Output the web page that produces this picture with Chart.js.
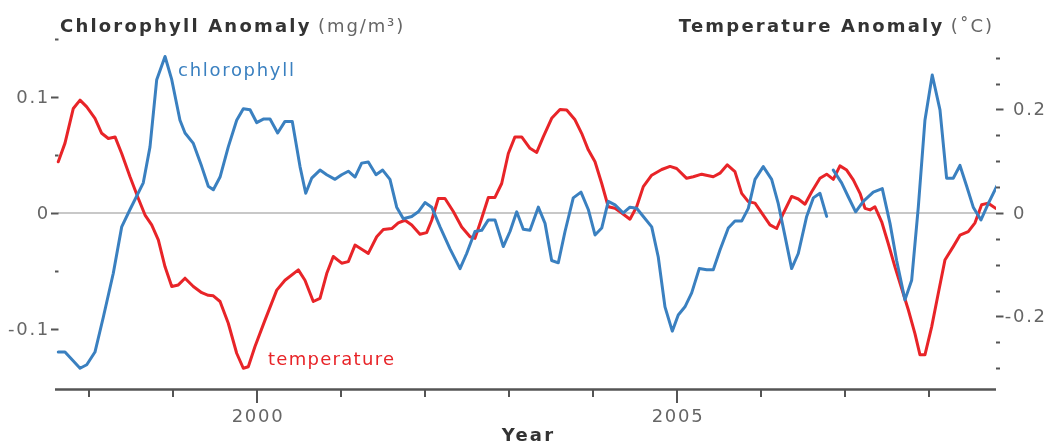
<!DOCTYPE html>
<html>
<head>
<meta charset="utf-8">
<script src="https://cdn.jsdelivr.net/npm/chart.js@4"></script>
<style>
  html, body { margin: 0; padding: 0; background: #fff; }
  #wrap { width: 1048px; height: 446px; }
</style>
</head>
<body>
<div id="wrap"><canvas id="c" width="1048" height="446"></canvas></div>
<script>
// ---------------- DATA ----------------
const chlYears = [1997.634, 1997.714, 1997.893, 1997.973, 1998.071, 1998.170, 1998.289, 1998.389, 1998.488, 1998.646,
  1998.726, 1998.806, 1998.905, 1998.985, 1999.083, 1999.143, 1999.242, 1999.342, 1999.420, 1999.480,
  1999.560, 1999.658, 1999.758, 1999.837, 1999.917, 1999.996, 2000.075, 2000.155, 2000.246, 2000.333,
  2000.420, 2000.512, 2000.580, 2000.651, 2000.750, 2000.830, 2000.929, 2001.008, 2001.087, 2001.167,
  2001.246, 2001.325, 2001.417, 2001.496, 2001.583, 2001.663, 2001.742, 2001.842, 2001.920, 2002.000,
  2002.080, 2002.179, 2002.298, 2002.417, 2002.496, 2002.595, 2002.675, 2002.754, 2002.833, 2002.932,
  2003.012, 2003.092, 2003.170, 2003.250, 2003.349, 2003.429, 2003.508, 2003.587, 2003.667, 2003.765,
  2003.857, 2003.944, 2004.024, 2004.104, 2004.182, 2004.262, 2004.361, 2004.440, 2004.520, 2004.599,
  2004.699, 2004.777, 2004.857, 2004.944, 2005.015, 2005.095, 2005.175, 2005.265, 2005.354, 2005.432,
  2005.512, 2005.611, 2005.690, 2005.770, 2005.849, 2005.929, 2006.027, 2006.127, 2006.206, 2006.286,
  2006.365, 2006.444, 2006.544, 2006.623, 2006.702, 2006.782, 2006.820,
  2006.861, 2006.960, 2007.039, 2007.127, 2007.218, 2007.337, 2007.444, 2007.536, 2007.615, 2007.714,
  2007.794, 2007.873, 2007.952, 2008.039, 2008.131, 2008.210, 2008.289, 2008.369, 2008.449, 2008.527,
  2008.619, 2008.706, 2008.806];
const chlValues = [-0.120, -0.120, -0.134, -0.131, -0.120, -0.090, -0.052, -0.012, 0.003, 0.026,
  0.057, 0.115, 0.135, 0.115, 0.080, 0.069, 0.060, 0.040, 0.023, 0.020,
  0.031, 0.057, 0.080, 0.090, 0.089, 0.078, 0.081, 0.081, 0.069, 0.079,
  0.079, 0.040, 0.017, 0.030, 0.037, 0.033, 0.029, 0.033, 0.036, 0.031,
  0.043, 0.044, 0.033, 0.037, 0.029, 0.005, -0.005, -0.003, 0.001, 0.009,
  0.005, -0.012, -0.031, -0.048, -0.035, -0.016, -0.015, -0.006, -0.006, -0.029,
  -0.016, 0.001, -0.014, -0.015, 0.005, -0.009, -0.041, -0.043, -0.016, 0.013,
  0.018, 0.003, -0.019, -0.013, 0.010, 0.007, 0.000, 0.005, 0.004, -0.003,
  -0.012, -0.038, -0.081, -0.102, -0.088, -0.081, -0.069, -0.048, -0.049, -0.049,
  -0.032, -0.013, -0.007, -0.007, 0.004, 0.029, 0.040, 0.029, 0.008, -0.020,
  -0.048, -0.035, -0.003, 0.013, 0.017, -0.003, null,
  0.037, 0.026, 0.014, 0.001, 0.010, 0.018, 0.021, -0.009, -0.041, -0.075,
  -0.058, 0.005, 0.080, 0.119, 0.089, 0.030, 0.030, 0.041, 0.023, 0.005,
  -0.006, 0.008, 0.023];

const tempYears = [1997.634, 1997.714, 1997.813, 1997.893, 1997.973, 1998.071, 1998.151, 1998.230, 1998.310, 1998.389,
  1998.488, 1998.587, 1998.667, 1998.746, 1998.825, 1998.905, 1998.985, 1999.063, 1999.143, 1999.242,
  1999.342, 1999.420, 1999.480, 1999.560, 1999.658, 1999.758, 1999.837, 1999.896, 1999.976, 2000.095,
  2000.235, 2000.333, 2000.492, 2000.571, 2000.670, 2000.750, 2000.830, 2000.908, 2001.008, 2001.087,
  2001.167, 2001.265, 2001.325, 2001.425, 2001.504, 2001.604, 2001.682, 2001.762, 2001.842, 2001.940,
  2002.020, 2002.080, 2002.158, 2002.238, 2002.337, 2002.437, 2002.536, 2002.595, 2002.675, 2002.754,
  2002.833, 2002.913, 2002.992, 2003.071, 2003.151, 2003.250, 2003.330, 2003.408, 2003.508, 2003.607,
  2003.687, 2003.786, 2003.865, 2003.944, 2004.024, 2004.104, 2004.182, 2004.262, 2004.342, 2004.440,
  2004.520, 2004.599, 2004.699, 2004.818, 2004.917, 2004.996, 2005.115, 2005.194, 2005.294, 2005.432,
  2005.512, 2005.599, 2005.690, 2005.770, 2005.849, 2005.929, 2006.027, 2006.107, 2006.187, 2006.265,
  2006.365, 2006.444, 2006.524, 2006.604, 2006.702, 2006.782, 2006.861, 2006.940, 2007.020, 2007.099,
  2007.179, 2007.238, 2007.298, 2007.357, 2007.437, 2007.515, 2007.595, 2007.675, 2007.754, 2007.833,
  2007.893, 2007.952, 2008.032, 2008.111, 2008.190, 2008.289, 2008.369, 2008.468, 2008.548, 2008.627,
  2008.706, 2008.794];
const tempValues = [0.099, 0.135, 0.202, 0.218, 0.205, 0.183, 0.154, 0.144, 0.147, 0.115,
  0.070, 0.028, -0.004, -0.023, -0.052, -0.104, -0.142, -0.139, -0.126, -0.142,
  -0.154, -0.159, -0.160, -0.171, -0.213, -0.271, -0.300, -0.297, -0.258, -0.207,
  -0.149, -0.130, -0.110, -0.130, -0.171, -0.165, -0.117, -0.084, -0.097, -0.094,
  -0.062, -0.072, -0.078, -0.046, -0.032, -0.030, -0.019, -0.014, -0.023, -0.041,
  -0.038, -0.014, 0.028, 0.028, 0.003, -0.027, -0.046, -0.049, -0.010, 0.030,
  0.030, 0.057, 0.115, 0.147, 0.147, 0.125, 0.117, 0.147, 0.183, 0.200,
  0.199, 0.180, 0.154, 0.122, 0.099, 0.057, 0.012, 0.009, 0.000, -0.012,
  0.012, 0.051, 0.073, 0.084, 0.090, 0.086, 0.067, 0.070, 0.075, 0.070,
  0.077, 0.093, 0.080, 0.038, 0.022, 0.019, -0.004, -0.023, -0.030, -0.001,
  0.032, 0.027, 0.017, 0.041, 0.067, 0.075, 0.065, 0.091, 0.083, 0.064,
  0.038, 0.009, 0.006, 0.012, -0.017, -0.059, -0.104, -0.146, -0.187, -0.233,
  -0.274, -0.274, -0.220, -0.155, -0.091, -0.065, -0.043, -0.036, -0.019, 0.016,
  0.019, 0.009];

// tick values and labels
const xTickYears   = [1998, 1999, 2000, 2001, 2002, 2003, 2004, 2005, 2006, 2007, 2008];
const xLabelYears  = [2000, 2005];
const leftTicks    = [-0.1, -0.05, 0, 0.05, 0.1, 0.15];
const leftLabels   = [-0.1, 0, 0.1];
const rightTicks   = [-0.3, -0.25, -0.2, -0.15, -0.1, -0.05, 0, 0.05, 0.1, 0.15, 0.2, 0.25, 0.3];
const rightLabels  = [-0.2, 0, 0.2];

// text
const leftTitle  = ['Chlorophyll Anomaly', '(mg/m\u00B3)'];
const rightTitle = ['Temperature Anomaly', '(\u02DAC)'];
const xTitle     = 'Year';
const chlName    = 'chlorophyll';
const tempName   = 'temperature';
// series-label anchors in data coordinates [year, value]
const chlNameAt  = [1999.06, 0.118];
const tempNameAt = [2000.13, -0.294];

// ---------------- STYLE ----------------
const BLUE = 'rgb(58,128,192)';
const RED  = 'rgb(232,36,40)';
const FONT = '"DejaVu Sans", sans-serif';

function toXY(xs, ys) {
  const n = Math.min(xs.length, ys.length);
  const out = [];
  for (let i = 0; i < n; i++) out.push({ x: xs[i], y: ys[i] });
  return out;
}
function fmt(v) { return v === 0 ? '0' : String(v); }

function setFont(ctx, weight, color, ls) {
  ctx.font = weight + ' 18px ' + FONT;
  ctx.fillStyle = color;
  try { ctx.letterSpacing = (ls || 1.7) + 'px'; } catch (e) {}
}

const decor = {
  id: 'decor',
  beforeDatasetsDraw(chart) {
    const { ctx, chartArea: a, scales } = chart;
    const y0 = scales.yL.getPixelForValue(0);
    ctx.save();
    ctx.strokeStyle = '#c8c8c8';
    ctx.lineWidth = 2;
    ctx.beginPath();
    ctx.moveTo(a.left + 3, y0); ctx.lineTo(a.right, y0);
    ctx.stroke();
    ctx.restore();
  },
  afterDraw(chart) {
    const { ctx, chartArea: a, scales } = chart;
    const sx = scales.x, yL = scales.yL, yR = scales.yR;
    ctx.save();
    // x axis line
    ctx.strokeStyle = '#555';
    ctx.lineWidth = 2.5;
    ctx.beginPath();
    ctx.moveTo(a.left, a.bottom + 0.5); ctx.lineTo(a.right, a.bottom + 0.5);
    ctx.stroke();
    // x ticks
    ctx.lineWidth = 2;
    xTickYears.forEach(yr => {
      const px = Math.round(sx.getPixelForValue(yr));
      const len = xLabelYears.includes(yr) ? 13 : 7;
      ctx.beginPath();
      ctx.moveTo(px, a.bottom + 1); ctx.lineTo(px, a.bottom + 1 + len);
      ctx.stroke();
    });
    // left ticks
    leftTicks.forEach(v => {
      const py = Math.round(yL.getPixelForValue(v)) + 0.5;
      const major = leftLabels.includes(v);
      ctx.beginPath();
      ctx.moveTo(a.left + (major ? -4 : 0), py); ctx.lineTo(a.left + 3.5, py);
      ctx.stroke();
    });
    // right ticks
    rightTicks.forEach(v => {
      const py = Math.round(yR.getPixelForValue(v)) + 0.5;
      const major = rightLabels.includes(v);
      ctx.beginPath();
      ctx.moveTo(a.right, py); ctx.lineTo(a.right + (major ? 7.5 : 4), py);
      ctx.stroke();
    });

    // tick labels
    setFont(ctx, 'normal', '#666');
    ctx.textBaseline = 'middle';
    ctx.textAlign = 'right';
    leftLabels.forEach(v => {
      ctx.fillText(fmt(v), a.left - 5, yL.getPixelForValue(v) + 1);
    });
    ctx.textAlign = 'left';
    const minusW = ctx.measureText('-').width;
    rightLabels.forEach(v => {
      const s = fmt(v);
      const x0 = a.right + 17 - (v < 0 ? minusW : 0);
      ctx.fillText(s, x0, yR.getPixelForValue(v) + 1);
    });
    ctx.textAlign = 'center';
    ctx.textBaseline = 'alphabetic';
    xLabelYears.forEach(yr => {
      ctx.fillText(String(yr), sx.getPixelForValue(yr) + 1, a.bottom + 33);
    });

    // axis titles
    setFont(ctx, 'bold', '#333', 2.2);
    ctx.textAlign = 'center';
    ctx.fillText(xTitle, (a.left + a.right) / 2 + 3, a.bottom + 52);

    ctx.textAlign = 'left';
    setFont(ctx, 'bold', '#333', 2.2);
    ctx.fillText(leftTitle[0], 60, 32);
    const lw = ctx.measureText(leftTitle[0] + ' ').width;
    setFont(ctx, 'normal', '#666', 1.9);
    ctx.fillText(leftTitle[1], 58 + lw, 32);

    setFont(ctx, 'normal', '#666', 1.9);
    const rw2 = ctx.measureText(rightTitle[1]).width;
    setFont(ctx, 'bold', '#333', 2.2);
    const rw1 = ctx.measureText(rightTitle[0] + ' ').width;
    const rx = 996 - rw1 - rw2;
    ctx.fillText(rightTitle[0], rx, 32);
    setFont(ctx, 'normal', '#666', 1.9);
    ctx.fillText(rightTitle[1], rx + rw1 - 2, 32);

    // series name labels
    setFont(ctx, 'normal', BLUE);
    ctx.fillText(chlName, sx.getPixelForValue(chlNameAt[0]), yL.getPixelForValue(chlNameAt[1]));
    setFont(ctx, 'normal', RED, 1.3);
    ctx.fillText(tempName, sx.getPixelForValue(tempNameAt[0]), yR.getPixelForValue(tempNameAt[1]));
    ctx.restore();
  }
};

new Chart(document.getElementById('c'), {
  type: 'line',
  data: {
    datasets: [
      { label: chlName, data: toXY(chlYears, chlValues), yAxisID: 'yL',
        borderColor: BLUE, borderWidth: 3, pointRadius: 0, tension: 0, spanGaps: false,
        borderJoinStyle: 'round', borderCapStyle: 'round' },
      { label: tempName, data: toXY(tempYears, tempValues), yAxisID: 'yR',
        borderColor: RED, borderWidth: 3, pointRadius: 0, tension: 0,
        borderJoinStyle: 'round', borderCapStyle: 'round' }
    ]
  },
  options: {
    responsive: false,
    animation: false,
    devicePixelRatio: 1,
    layout: { padding: { left: 55, right: 52, top: 39, bottom: 57 } },
    plugins: { legend: { display: false }, tooltip: { enabled: false }, title: { display: false } },
    scales: {
      x:  { type: 'linear', display: false, min: 1997.595, max: 2008.798 },
      yL: { type: 'linear', display: false, position: 'left',  min: -0.1519, max: 0.1501 },
      yR: { type: 'linear', display: false, position: 'right', min: -0.3401, max: 0.3362 }
    }
  },
  plugins: [decor]
});
</script>
</body>
</html>
